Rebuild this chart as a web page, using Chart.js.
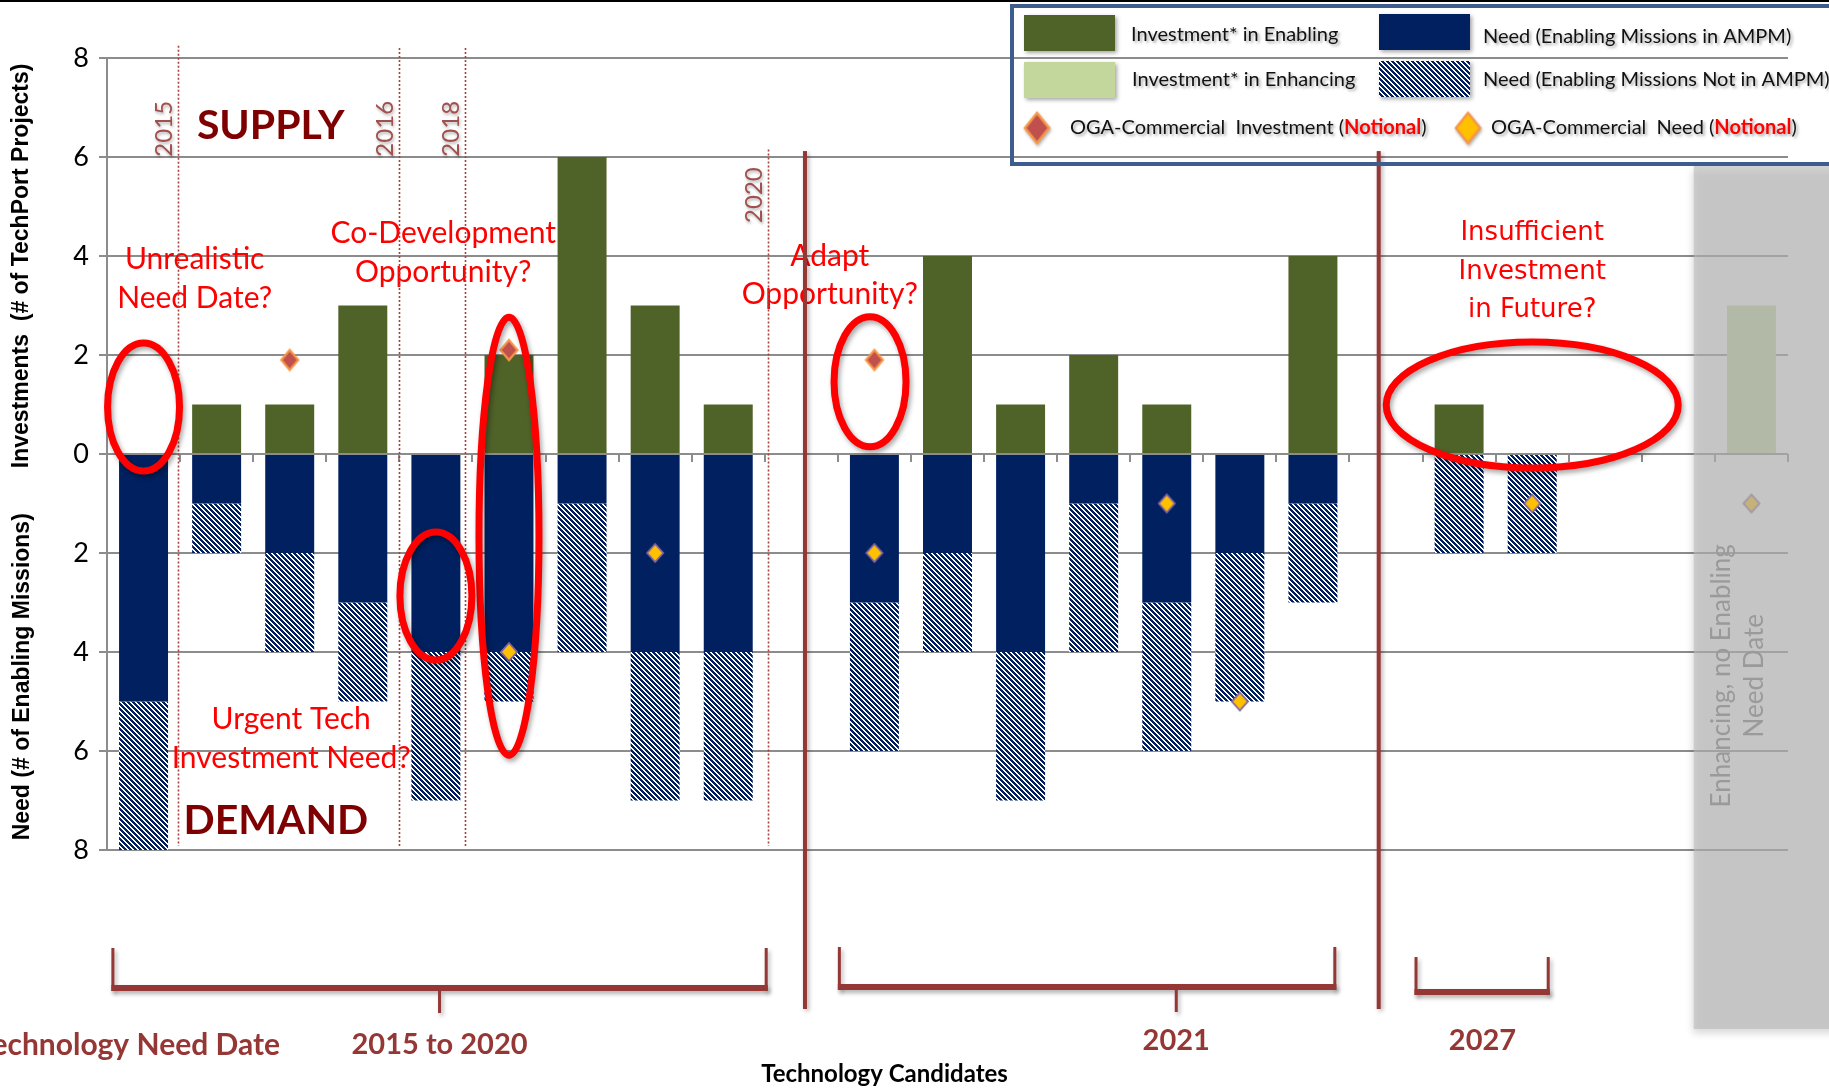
<!DOCTYPE html>
<html lang="en">
<head>
<meta charset="utf-8">
<title>Technology Candidates: Supply vs Demand</title>
<script src="https://cdn.jsdelivr.net/npm/chart.js@4.4.1/dist/chart.umd.min.js"></script>
<style>
  html, body { margin: 0; padding: 0; background: #ffffff; overflow: hidden; }
  #chart { display: block; }
</style>
</head>
<body>
<canvas id="chart" width="1829" height="1088"></canvas>
<script>
// Technology candidates along the x axis ('' = spacer slot between need-date groups)
const candidates = ['1','2','3','4','5','6','7','8','9','','10','11','12','13','14','15','16','','17','18','','','19'];

// Supply: number of TechPort projects
const investEnabling  = [null,1,1,3,null,2,6,3,1, null, null,4,1,2,1,null,4, null, 1,null, null,null, null];
const investEnhancing = [null,null,null,null,null,null,null,null,null, null, null,null,null,null,null,null,null, null, null,null, null,null, 3];

// Demand: number of enabling missions (drawn below zero)
const needInAMPM      = [5,1,2,3,4,4,1,4,4, null, 3,2,4,1,3,2,1, null, null,null, null,null, null];
const needNotInAMPM   = [3,1,2,2,3,1,3,3,3, null, 3,2,3,3,3,3,2, null, 2,2, null,null, null];

// Other-agency / commercial markers (notional)
const ogaInvestment   = [null,null,1.9,null,null,2.1,null,null,null, null, 1.9,null,null,null,null,null,null, null, null,null, null,null, null];
const ogaNeed         = [null,null,null,null,null,4,null,2,null, null, 2,null,null,null,1,5,null, null, null,1, null,null, 1];

const yTicks = [-8, -6, -4, -2, 0, 2, 4, 6, 8];
const yearMarks = ['2015', '2016', '2018', '2020'];
const needDateGroups = ['2015 to 2020', '2021', '2027'];

const FONT_CAL  = 'Lato, "Liberation Sans", sans-serif';
const FONT_BOLD = '"Liberation Sans", Arial, sans-serif';
const FONT_WIDE = '"DejaVu Sans", Verdana, sans-serif';
const BRICK = '#953735';

const neg = arr => arr.map(v => (v == null ? null : -v));

// diagonal (top-left to bottom-right) navy stripes on white
function makeHatch(color) {
  const n = 5, ink = 3;
  const c = document.createElement('canvas');
  c.width = n; c.height = n;
  const g = c.getContext('2d');
  g.fillStyle = '#ffffff';
  g.fillRect(0, 0, n, n);
  g.fillStyle = color;
  for (let r = 0; r < n; r++) {
    for (let k = 0; k < ink; k++) g.fillRect((r + k) % n, r, 1, 1);
  }
  return g.createPattern(c, 'repeat');
}

function makeDiamond(w, h, fill, stroke, lw) {
  const c = document.createElement('canvas');
  c.width = Math.ceil(w + lw * 2 + 2);
  c.height = Math.ceil(h + lw * 2 + 2);
  const g = c.getContext('2d');
  const cx = c.width / 2, cy = c.height / 2;
  g.beginPath();
  g.moveTo(cx, cy - h / 2);
  g.lineTo(cx + w / 2, cy);
  g.lineTo(cx, cy + h / 2);
  g.lineTo(cx - w / 2, cy);
  g.closePath();
  g.fillStyle = fill;
  g.fill();
  g.lineWidth = lw;
  g.strokeStyle = stroke;
  g.stroke();
  return c;
}

const hatch = makeHatch('#002060');
const redDiamond = makeDiamond(17, 20, '#c0504d', '#f79646', 2.2);
const yellowDiamond = makeDiamond(16, 18, '#ffc000', '#8064a2', 1.8);
const redDiamondKey = makeDiamond(24, 30, '#c0504d', '#f79646', 2.5);
const yellowDiamondKey = makeDiamond(24, 30, '#ffc000', '#f79646', 2.5);

// Annotation placement (x in category units, y in axis values)
const notes = {
  callouts: [
    { lines: ['Unrealistic', 'Need Date?'], at: [0.70, 3.93] },
    { lines: ['Co-Development', 'Opportunity?'], at: [4.10, 4.45] },
    { lines: ['Urgent Tech', 'Investment Need?'], at: [2.02, -5.37] },
    { lines: ['Adapt', 'Opportunity?'], at: [9.39, 4.0] }
  ],
  future: { lines: ['Insufficient', 'Investment', 'in Future?'], at: [19.0, 4.45] },
  supply: { text: 'SUPPLY', at: [1.74, 6.64] },
  demand: { text: 'DEMAND', at: [1.81, -7.40] },
  rings: [
    { at: [0, 0.95], rx: 36, ry: 64 },
    { at: [5, -1.66], rx: 30, ry: 219 },
    { at: [4, -2.87], rx: 36, ry: 64 },
    { at: [9.94, 1.46], rx: 36, ry: 65 },
    { at: [19, 0.99], rx: 146, ry: 63 }
  ],
  years: [
    { at: 0.47, top: 8.25, label: 6.57 },
    { at: 3.49, top: 8.2, label: 6.57 },
    { at: 4.40, top: 8.2, label: 6.57 },
    { at: 8.54, top: 6.15, label: 5.23 }
  ],
  dividers: [9.05, 16.9],
  shadeFrom: 21.21,
  brackets: [
    { from: -0.44, to: 8.54, tick: 4.05, top: 98, bottom: 141 },
    { from: 9.5, to: 16.32, tick: 14.13, top: 97, bottom: 140 },
    { from: 17.39, to: 19.24, tick: null, top: 107, bottom: 145 }
  ],
  groupLabels: [{ at: 4.05, dy: 195 }, { at: 14.13, dy: 191 }, { at: 18.32, dy: 191 }]
};

function shadow(ctx, a, blur, dx, dy) {
  ctx.shadowColor = 'rgba(0,0,0,' + a + ')';
  ctx.shadowBlur = blur;
  ctx.shadowOffsetX = dx;
  ctx.shadowOffsetY = dy;
}

function rotated(ctx, text, x, y) {
  ctx.save();
  ctx.translate(x, y);
  ctx.rotate(-Math.PI / 2);
  ctx.fillText(text, 0, 0);
  ctx.restore();
}

const annotations = {
  id: 'annotations',
  beforeDraw(chart) {
    const ctx = chart.ctx;
    ctx.save();
    ctx.fillStyle = '#ffffff';
    ctx.fillRect(0, 0, chart.width, chart.height);
    ctx.restore();
  },
  afterDatasetsDraw(chart) {
    const { ctx, chartArea: a, scales: { x, y } } = chart;
    const X = v => x.getPixelForValue(v);
    const Y = v => y.getPixelForValue(v);
    const W = chart.width;

    ctx.save();
    ctx.textAlign = 'center';
    ctx.textBaseline = 'middle';

    // frame line across the top
    ctx.fillStyle = '#000000';
    ctx.fillRect(0, 0, W, 2);

    // red call-out questions
    ctx.fillStyle = '#ff0000';
    ctx.font = '30px ' + FONT_CAL;
    notes.callouts.forEach(c => {
      c.lines.forEach((t, i) => ctx.fillText(t, X(c.at[0]), Y(c.at[1]) + i * 38.5));
    });
    ctx.font = '26px ' + FONT_WIDE;
    notes.future.lines.forEach((t, i) => ctx.fillText(t, X(notes.future.at[0]), Y(notes.future.at[1]) + i * 38.5));

    // SUPPLY / DEMAND
    ctx.fillStyle = '#7f0000';
    ctx.font = 'bold 41px ' + FONT_CAL;
    ctx.fillText(notes.supply.text, X(notes.supply.at[0]), Y(notes.supply.at[1]));
    ctx.fillText(notes.demand.text, X(notes.demand.at[0]), Y(notes.demand.at[1]));

    // need-year markers
    notes.years.forEach((m, i) => {
      const px = Math.round(X(m.at)) + 0.5;
      ctx.save();
      ctx.strokeStyle = '#a8403c';
      ctx.lineWidth = 1.6;
      ctx.setLineDash([2, 2]);
      ctx.beginPath();
      ctx.moveTo(px, Y(m.top));
      ctx.lineTo(px, a.bottom - 4);
      ctx.stroke();
      ctx.restore();
      ctx.save();
      shadow(ctx, 0.3, 3, 1, 2);
      ctx.fillStyle = '#a0504d';
      ctx.font = '24px ' + FONT_CAL;
      rotated(ctx, yearMarks[i], px - 14, Y(m.label));
      ctx.restore();
    });

    // group dividers
    ctx.save();
    shadow(ctx, 0.3, 4, 2, 2);
    ctx.fillStyle = BRICK;
    notes.dividers.forEach(v => {
      const px = X(v);
      ctx.fillRect(px - 2, Y(6.12), 4, a.bottom + 159 - Y(6.12));
    });
    ctx.restore();

    // attention rings
    ctx.save();
    shadow(ctx, 0.35, 5, 2, 3);
    ctx.strokeStyle = '#ff0000';
    ctx.lineWidth = 7;
    notes.rings.forEach(r => {
      ctx.beginPath();
      ctx.ellipse(X(r.at[0]), Y(r.at[1]), r.rx, r.ry, 0, 0, Math.PI * 2);
      ctx.stroke();
    });
    ctx.restore();

    // shaded region for enhancing-only candidates
    const sx = X(notes.shadeFrom);
    const sTop = Y(5.82), sBot = a.bottom + 179;
    ctx.save();
    shadow(ctx, 0.25, 8, -1, 4);
    ctx.fillStyle = 'rgba(188,188,188,0.64)';
    ctx.fillRect(sx, sTop, W - sx + 20, sBot - sTop);
    ctx.restore();
    ctx.fillStyle = '#9a9a9a';
    ctx.font = '26px ' + FONT_CAL;
    rotated(ctx, 'Enhancing, no Enabling', X(21.59), Y(-4.48));
    rotated(ctx, 'Need Date', X(22.04), Y(-4.48));

    // need-date brackets
    ctx.save();
    shadow(ctx, 0.3, 4, 2, 3);
    ctx.fillStyle = BRICK;
    notes.brackets.forEach(b => {
      const l = X(b.from), r = X(b.to);
      const t = a.bottom + b.top, bt = a.bottom + b.bottom;
      ctx.fillRect(l, t, 3, bt - t);
      ctx.fillRect(r - 3, t, 3, bt - t);
      ctx.fillRect(l, bt - 6, r - l, 6);
      if (b.tick != null) ctx.fillRect(X(b.tick) - 1.5, bt, 3, 22);
    });
    ctx.restore();

    ctx.fillStyle = BRICK;
    ctx.font = 'bold 29px ' + FONT_CAL;
    notes.groupLabels.forEach((g, i) => ctx.fillText(needDateGroups[i], X(g.at), a.bottom + g.dy));
    ctx.font = 'bold 30px ' + FONT_CAL;
    ctx.textAlign = 'right';
    ctx.fillText('Technology Need Date', 280, a.bottom + 195);
    ctx.textAlign = 'center';
    ctx.fillStyle = '#000000';
    ctx.font = 'bold 24px ' + FONT_CAL;
    ctx.fillText('Technology Candidates', (a.left + a.right) / 2 - 63, a.bottom + 224);

    // axis titles
    ctx.font = 'bold 23px ' + FONT_BOLD;
    rotated(ctx, 'Investments  (# of TechPort Projects)', 22, Y(3.8));
    rotated(ctx, 'Need (# of Enabling Missions)', 23, Y(-4.5));

    drawLegend(chart);
    ctx.restore();
  }
};

function drawLegend(chart) {
  const ctx = chart.ctx;
  const ds = chart.data.datasets;
  ctx.save();
  ctx.lineWidth = 4;
  ctx.strokeStyle = '#3c5d8d';
  ctx.strokeRect(1012, 6, 840, 158);

  const swatches = [
    { i: 0, x: 1024, y: 15 }, { i: 1, x: 1024, y: 62 },
    { i: 2, x: 1379, y: 14 }, { i: 3, x: 1379, y: 61 }
  ];
  swatches.forEach(s => {
    ctx.save();
    shadow(ctx, 0.35, 4, 2, 2);
    ctx.fillStyle = ds[s.i].backgroundColor;
    ctx.fillRect(s.x, s.y, 91, 36);
    ctx.restore();
  });
  ctx.save();
  shadow(ctx, 0.3, 3, 1, 2);
  ctx.drawImage(redDiamondKey, 1037 - redDiamondKey.width / 2, 128 - redDiamondKey.height / 2);
  ctx.drawImage(yellowDiamondKey, 1468 - yellowDiamondKey.width / 2, 128 - yellowDiamondKey.height / 2);
  ctx.restore();

  ctx.save();
  shadow(ctx, 0.35, 3, 2, 2);
  ctx.textAlign = 'left';
  ctx.textBaseline = 'middle';
  const size = 20;
  ctx.font = size + 'px ' + FONT_CAL;
  ctx.fillStyle = '#111111';
  ctx.fillText(ds[0].label, 1131, 35);
  ctx.fillText(ds[1].label, 1132, 80);
  ctx.fillText(ds[2].label, 1483, 37);
  ctx.fillText(ds[3].label, 1483, 80);

  const keyed = (label, x0, yy) => {
    const m = label.match(/^(.*\()(Notional)(\))$/);
    let xx = x0;
    ctx.font = size + 'px ' + FONT_CAL;
    ctx.fillStyle = '#111111';
    ctx.fillText(m[1], xx, yy);
    xx += ctx.measureText(m[1]).width;
    ctx.font = 'bold ' + size + 'px ' + FONT_CAL;
    ctx.fillStyle = '#ff0000';
    ctx.fillText(m[2], xx, yy);
    xx += ctx.measureText(m[2]).width;
    ctx.font = size + 'px ' + FONT_CAL;
    ctx.fillStyle = '#111111';
    ctx.fillText(m[3], xx, yy);
  };
  keyed(ds[4].label, 1070, 128);
  keyed(ds[5].label, 1491, 128);
  ctx.restore();
  ctx.restore();
}

new Chart(document.getElementById('chart'), {
  type: 'bar',
  data: {
    labels: candidates,
    datasets: [
      { label: 'Investment* in Enabling', data: investEnabling, backgroundColor: '#4f6228', stack: 'bars' },
      { label: 'Investment* in Enhancing', data: investEnhancing, backgroundColor: '#c3d69b', stack: 'bars' },
      { label: 'Need (Enabling Missions in AMPM)', data: neg(needInAMPM), backgroundColor: '#002060', stack: 'bars' },
      { label: 'Need (Enabling Missions Not in AMPM)', data: neg(needNotInAMPM), backgroundColor: hatch, stack: 'bars' },
      { type: 'line', label: 'OGA-Commercial  Investment (Notional)', data: ogaInvestment, showLine: false,
        pointStyle: redDiamond, pointRadius: 9, order: -1, stack: 'oga-invest' },
      { type: 'line', label: 'OGA-Commercial  Need (Notional)', data: neg(ogaNeed), showLine: false,
        pointStyle: yellowDiamond, pointRadius: 9, order: -1, stack: 'oga-need' }
    ]
  },
  options: {
    responsive: false,
    animation: false,
    devicePixelRatio: 1,
    layout: { padding: { left: 0, right: 41, top: 58, bottom: 238 } },
    datasets: { bar: { categoryPercentage: 1, barPercentage: 0.67, borderWidth: 0 } },
    plugins: { legend: { display: false }, tooltip: { enabled: false } },
    scales: {
      x: {
        type: 'category',
        stacked: true,
        offset: true,
        position: { y: 0 },
        ticks: { display: false },
        grid: { offset: true, drawOnChartArea: false, drawTicks: true, tickLength: 8, color: '#8c8c8c', lineWidth: 2 },
        border: { display: false }
      },
      y: {
        stacked: true,
        min: -8,
        max: 8,
        afterBuildTicks: s => { s.ticks = yTicks.map(v => ({ value: v })); },
        afterFit: s => { s.width = 107; },
        ticks: { callback: v => Math.abs(v), color: '#000000', font: { family: FONT_CAL, size: 27 }, padding: 10 },
        grid: { color: '#8c8c8c', lineWidth: 2, tickLength: 8 },
        border: { color: '#8c8c8c', width: 2 }
      }
    }
  },
  plugins: [annotations]
});
</script>
</body>
</html>
